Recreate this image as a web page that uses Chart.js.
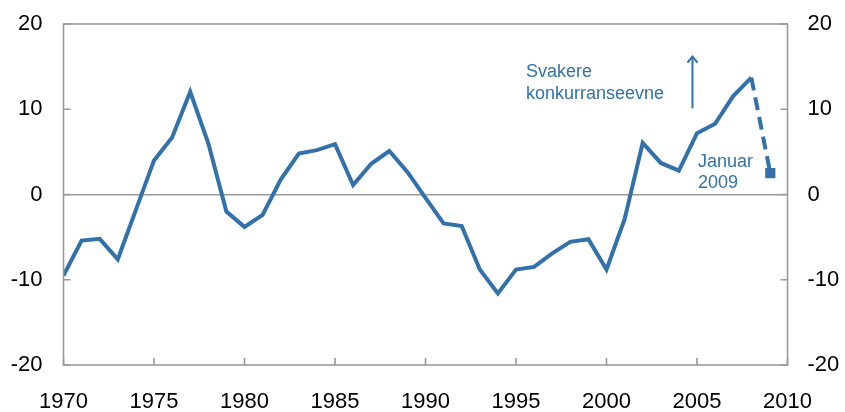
<!DOCTYPE html>
<html>
<head>
<meta charset="utf-8">
<script src="https://cdn.jsdelivr.net/npm/chart.js@4"></script>
<style>
html,body{margin:0;padding:0;background:#fff;}
#wrap{width:845px;height:412px;}
</style>
</head>
<body>
<div id="wrap"><canvas id="c" width="845" height="412"></canvas></div>
<script>
const years = [1970,1971,1972,1973,1974,1975,1976,1977,1978,1979,1980,1981,1982,1983,1984,1985,1986,1987,1988,1989,1990,1991,1992,1993,1994,1995,1996,1997,1998,1999,2000,2001,2002,2003,2004,2005,2006,2007,2008];
const values = [-9.5,-5.4,-5.2,-7.6,-1.8,4.0,6.7,12.05,6.0,-2.0,-3.8,-2.4,1.75,4.8,5.2,5.9,1.1,3.6,5.1,2.65,-0.4,-3.4,-3.7,-8.8,-11.6,-8.8,-8.5,-6.9,-5.55,-5.25,-8.8,-2.9,6.05,3.7,2.8,7.2,8.3,11.55,13.7];
const janX = 2009.05;
const janValue = 2.5;
const xTicks = [1970,1975,1980,1985,1990,1995,2000,2005,2010];
const yTicks = [-20,-10,0,10,20];
const arrowX = 2004.75, arrowFrom = 10.1, arrowTo = 16.3;
const labelTop = ["Svakere","konkurranseevne"];
const labelJan = ["Januar","2009"];

const blue = '#3271a9';
const axisGray = '#9a9a9a';
const FONT = '"Liberation Sans", Arial, sans-serif';

const pts = years.map((y,i)=>({x:y,y:values[i]}));
pts.push({x:janX,y:janValue});
const lastIdx = pts.length-1;

const decor = {
  id:'decor',
  afterDraw(chart){
    const {ctx, chartArea:a, scales} = chart;
    const xs = scales.x, yl = scales.y, yr = scales.y2;
    ctx.save();
    ctx.strokeStyle = axisGray;
    ctx.lineWidth = 1.6;
    ctx.strokeRect(a.left, a.top, a.right-a.left, a.bottom-a.top);
    ctx.beginPath();
    xTicks.forEach(v=>{const px=xs.getPixelForValue(v); ctx.moveTo(px,a.bottom); ctx.lineTo(px,a.bottom-7);});
    yTicks.forEach(v=>{const py=yl.getPixelForValue(v); ctx.moveTo(a.left,py); ctx.lineTo(a.left+7,py);});
    yTicks.forEach(v=>{const py=yr.getPixelForValue(v); ctx.moveTo(a.right,py); ctx.lineTo(a.right-7,py);});
    ctx.stroke();
    // arrow
    const ax = xs.getPixelForValue(arrowX);
    const y0 = yl.getPixelForValue(arrowFrom), y1 = yl.getPixelForValue(arrowTo);
    ctx.strokeStyle = blue; ctx.lineWidth = 2;
    ctx.beginPath(); ctx.moveTo(ax,y0); ctx.lineTo(ax,y1+1); ctx.stroke();
    ctx.beginPath(); ctx.moveTo(ax-5,y1+7); ctx.lineTo(ax,y1+1); ctx.lineTo(ax+5,y1+7); ctx.stroke();
    // texts
    ctx.fillStyle = blue;
    ctx.font = '18px ' + FONT;
    ctx.textBaseline = 'alphabetic';
    ctx.textAlign = 'left';
    ctx.fillText(labelTop[0], 526, 77);
    ctx.fillText(labelTop[1], 526, 99);
    ctx.fillText(labelJan[0], 698, 167);
    ctx.fillText(labelJan[1], 698, 188);
    ctx.restore();
  }
};

function fixV(w){ return s => { s.width = w; s.paddingTop = 0; s.paddingBottom = 0; }; }

new Chart(document.getElementById('c'), {
  type:'line',
  data:{datasets:[{
    data: pts,
    borderColor: blue,
    backgroundColor: blue,
    borderWidth: 4,
    borderJoinStyle:'miter',
    tension: 0,
    pointRadius: ctx => ctx.dataIndex===lastIdx ? 7.2 : 0,
    pointStyle: 'rect',
    pointBorderWidth: 0,
    pointHoverRadius: 0,
    segment:{ borderDash: ctx => ctx.p1DataIndex===lastIdx ? [13,7] : undefined }
  }]},
  options:{
    responsive:false,
    animation:false,
    events:[],
    layout:{padding:{top:24,left:0,right:0,bottom:0}},
    plugins:{legend:{display:false}, tooltip:{enabled:false}},
    scales:{
      x:{type:'linear', min:1970, max:2010,
        afterFit(s){ s.height = 47; s.paddingLeft = 0; s.paddingRight = 0; },
        afterBuildTicks(s){ s.ticks = xTicks.map(v=>({value:v})); },
        grid:{display:false, drawTicks:false},
        border:{display:false},
        ticks:{font:{size:22, family:FONT}, color:'#000', padding:24, maxRotation:0, autoSkip:false,
          callback: v => String(v)}
      },
      y:{position:'left', min:-20, max:20,
        afterFit: fixV(63.5),
        afterBuildTicks(s){ s.ticks = yTicks.map(v=>({value:v})); },
        grid:{drawTicks:false, color: c => c.tick && c.tick.value===0 ? axisGray : 'rgba(0,0,0,0)', lineWidth:1.6},
        border:{display:false},
        ticks:{font:{size:22, family:FONT}, color:'#000', padding:21}
      },
      y2:{position:'right', min:-20, max:20,
        afterFit: fixV(57.5),
        afterBuildTicks(s){ s.ticks = yTicks.map(v=>({value:v})); },
        grid:{display:false, drawTicks:false},
        border:{display:false},
        ticks:{font:{size:22, family:FONT}, color:'#000', padding:20}
      }
    }
  },
  plugins:[decor]
});
</script>
</body>
</html>
